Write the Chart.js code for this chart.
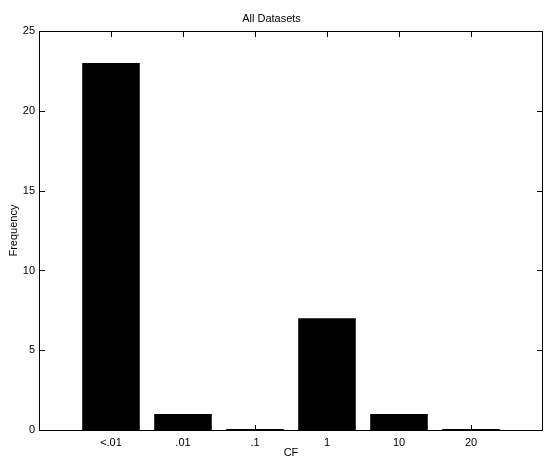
<!DOCTYPE html>
<html>
<head>
<meta charset="utf-8">
<script src="https://cdn.jsdelivr.net/npm/chart.js@4/dist/chart.umd.min.js"></script>
<style>
  html, body { margin: 0; padding: 0; background: #fff; }
  #wrap { width: 544px; height: 458px; }
</style>
</head>
<body>
<div id="wrap"><canvas id="chart" width="544" height="458"></canvas></div>
<script>
const categories = ['<.01', '.01', '.1', '1', '10', '20'];
const frequency = [23, 1, 0, 7, 1, 0];
const yTicks = [0, 5, 10, 15, 20, 25];

const FONT = "'Liberation Sans', Arial, sans-serif";

// MATLAB-style box with inward tick marks on all four sides
const frameTicks = {
    id: 'frameTicks',
    afterDraw(chart) {
        const ctx = chart.ctx;
        const a = chart.chartArea;
        const xs = chart.scales.x, ys = chart.scales.y;
        const len = 5;
        const L = Math.round(a.left), R = Math.round(a.right) - 1;
        const T = Math.round(a.top), B = Math.round(a.bottom);
        ctx.save();
        ctx.fillStyle = '#000';
        // frame
        ctx.fillRect(L, T, R - L + 1, 1);
        ctx.fillRect(L, B, R - L + 1, 1);
        ctx.fillRect(L, T, 1, B - T + 1);
        ctx.fillRect(R, T, 1, B - T + 1);
        // ticks
        for (let i = 0; i < categories.length; i++) {
            const px = Math.round(xs.getPixelForValue(i + 1));
            ctx.fillRect(px, B - len, 1, len);
            ctx.fillRect(px, T + 1, 1, len);
        }
        for (const v of yTicks) {
            const py = Math.round(ys.getPixelForValue(v));
            ctx.fillRect(L + 1, py, len, 1);
            ctx.fillRect(R - len, py, len, 1);
        }
        ctx.restore();
    }
};

new Chart(document.getElementById('chart').getContext('2d'), {
    type: 'bar',
    data: {
        datasets: [{
            data: frequency.map((v, i) => ({ x: i + 1, y: v })),
            backgroundColor: '#000',
            borderWidth: 0,
            minBarLength: 1,
            barPercentage: 0.8,
            categoryPercentage: 1
        }]
    },
    options: {
        responsive: false,
        animation: false,
        layout: { padding: { left: 0, right: 1, top: 0, bottom: 0 } },
        plugins: {
            legend: { display: false },
            tooltip: { enabled: false },
            title: {
                display: true,
                text: 'All Datasets',
                color: '#000',
                font: { family: FONT, size: 11, weight: 'normal' },
                padding: { top: 12, bottom: 6 }
            }
        },
        scales: {
            x: {
                type: 'linear',
                min: 0,
                max: 7,
                offset: false,
                grid: { display: false, drawTicks: false, offset: false },
                border: { display: false },
                afterBuildTicks: s => { s.ticks = categories.map((c, i) => ({ value: i + 1 })); },
                afterFit: s => { s.height = 28; },
                ticks: {
                    color: '#000',
                    font: { family: FONT, size: 11 },
                    padding: 6,
                    autoSkip: false,
                    maxRotation: 0,
                    callback: v => categories[v - 1] ?? ''
                },
                title: {
                    display: true,
                    text: 'CF',
                    color: '#000',
                    font: { family: FONT, size: 11, lineHeight: 1 },
                    padding: { top: 0, bottom: 0 }
                }
            },
            y: {
                min: 0,
                max: 25,
                grid: { display: false, drawTicks: false },
                border: { display: false },
                afterBuildTicks: s => { s.ticks = yTicks.map(v => ({ value: v })); },
                afterFit: s => { s.width = 39; },
                ticks: {
                    color: '#000',
                    font: { family: FONT, size: 11 },
                    padding: 4
                },
                title: {
                    display: true,
                    text: 'Frequency',
                    color: '#000',
                    font: { family: FONT, size: 11 },
                    padding: { top: 7, bottom: 0 }
                }
            }
        }
    },
    plugins: [frameTicks]
});
</script>
</body>
</html>
